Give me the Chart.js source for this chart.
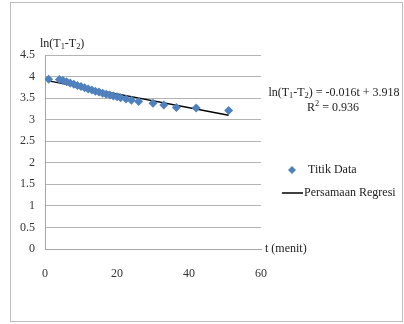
<!DOCTYPE html>
<html>
<head>
<meta charset="utf-8">
<script src="https://cdn.jsdelivr.net/npm/chart.js@4"></script>
<style>
  html, body { margin: 0; padding: 0; background: #fff; }
  #wrap { width: 404px; height: 324px; position: relative; }
</style>
</head>
<body>
<div id="wrap"><canvas id="chart" width="404" height="324"></canvas></div>
<script>
// values
const tMinutes = [1, 4, 5, 6, 7, 8, 9, 10, 11, 12, 13, 14, 15, 16, 17, 18, 19, 20, 21, 22.5, 24, 26, 30, 33, 36.5, 42, 51];
const lnDiff = [3.94, 3.93, 3.91, 3.88, 3.85, 3.82, 3.79, 3.77, 3.74, 3.71, 3.69, 3.66, 3.64, 3.61, 3.59, 3.57, 3.55, 3.53, 3.51, 3.48, 3.45, 3.42, 3.38, 3.34, 3.28, 3.27, 3.21];
const regT = [1, 51];
const regY = [3.90, 3.10];
const xTicks = [0, 20, 40, 60];
const yTicks = [0, 0.5, 1, 1.5, 2, 2.5, 3, 3.5, 4, 4.5];

const serif = '"Liberation Serif", "Times New Roman", serif';
const blue = '#4f81bd';
const fs = 12;

// draw text with subscripts/superscripts, parts = [[text, isSub, isSup], ...]
function drawRich(ctx, parts, x, y, size) {
    let cx = x;
    parts.forEach(p => {
        if (p[1]) {
            ctx.font = (size * 0.7) + 'px ' + serif;
            ctx.fillText(p[0], cx, y + size * 0.25);
        } else if (p[2]) {
            ctx.font = (size * 0.7) + 'px ' + serif;
            ctx.fillText(p[0], cx, y - size * 0.35);
        } else {
            ctx.font = size + 'px ' + serif;
            ctx.fillText(p[0], cx, y);
        }
        cx += ctx.measureText(p[0]).width;
    });
    return cx - x;
}

function richWidth(ctx, parts, size) {
    let w = 0;
    parts.forEach(p => {
        ctx.font = ((p[1] || p[2]) ? size * 0.7 : size) + 'px ' + serif;
        w += ctx.measureText(p[0]).width;
    });
    return w;
}

const extras = {
    id: 'extras',
    afterDraw(chart) {
        const ctx = chart.ctx;
        ctx.save();
        // frame
        ctx.strokeStyle = '#bdbdbd';
        ctx.lineWidth = 1;
        ctx.strokeRect(10.5, 2.5, 392, 319);

        ctx.fillStyle = '#222';
        ctx.textBaseline = 'middle';
        ctx.textAlign = 'left';

        // y axis title
        drawRich(ctx, [['ln(T'], ['1', true], ['-T'], ['2', true], [')']], 40, 44, fs);

        // x axis title
        ctx.font = fs + 'px ' + serif;
        ctx.fillText('t (menit)', 265, 249);

        // equation
        const eq = [['ln(T'], ['1', true], ['-T'], ['2', true], [') = -0.016t + 3.918']];
        const we = richWidth(ctx, eq, fs);
        drawRich(ctx, eq, 334 - we / 2, 93, fs);
        const r2 = [['R'], ['2', false, true], [' = 0.936']];
        const w = richWidth(ctx, r2, fs);
        drawRich(ctx, r2, 333 - w / 2, 108, fs);

        // legend
        ctx.fillStyle = blue;
        ctx.beginPath();
        ctx.moveTo(292, 166); ctx.lineTo(296, 170); ctx.lineTo(292, 174); ctx.lineTo(288, 170);
        ctx.closePath();
        ctx.fill();
        ctx.fillStyle = '#222';
        ctx.font = fs + 'px ' + serif;
        ctx.fillText('Titik Data', 308, 170);

        ctx.strokeStyle = '#000';
        ctx.lineWidth = 1.5;
        ctx.beginPath();
        ctx.moveTo(282, 193); ctx.lineTo(303, 193);
        ctx.stroke();
        ctx.fillText('Persamaan Regresi', 304, 193);
        ctx.restore();
    }
};

new Chart(document.getElementById('chart'), {
    type: 'scatter',
    data: {
        datasets: [{
            label: 'Titik Data',
            data: tMinutes.map((t, i) => ({ x: t, y: lnDiff[i] })),
            pointStyle: 'rectRot',
            pointRadius: 4.5,
            backgroundColor: blue,
            borderColor: blue,
            borderWidth: 0
        }, {
            label: 'Persamaan Regresi',
            type: 'line',
            data: regT.map((t, i) => ({ x: t, y: regY[i] })),
            borderColor: '#000',
            borderWidth: 1.5,
            pointRadius: 0,
            fill: false
        }]
    },
    options: {
        responsive: false,
        animation: false,
        layout: { padding: { left: 0, top: 55, right: 143, bottom: 0 } },
        plugins: {
            legend: { display: false },
            tooltip: { enabled: false }
        },
        scales: {
            x: {
                type: 'linear',
                min: 0,
                max: 60,
                afterBuildTicks: s => { s.ticks = xTicks.map(v => ({ value: v })); },
                afterFit: s => { s.height = 75; },
                grid: { display: false, drawTicks: false },
                border: { display: true, color: '#a6a6a6' },
                ticks: { padding: 18, color: '#333', font: { family: serif, size: fs }, maxRotation: 0, callback: v => String(v) }
            },
            y: {
                min: 0,
                max: 4.5,
                afterBuildTicks: s => { s.ticks = yTicks.map(v => ({ value: v })); },
                afterFit: s => { s.width = 45; },
                grid: { color: '#b3b3b3', drawTicks: false },
                border: { display: true, color: '#a6a6a6' },
                ticks: { padding: 10, color: '#333', font: { family: serif, size: fs }, callback: v => String(v) }
            }
        }
    },
    plugins: [extras]
});
</script>
</body>
</html>
